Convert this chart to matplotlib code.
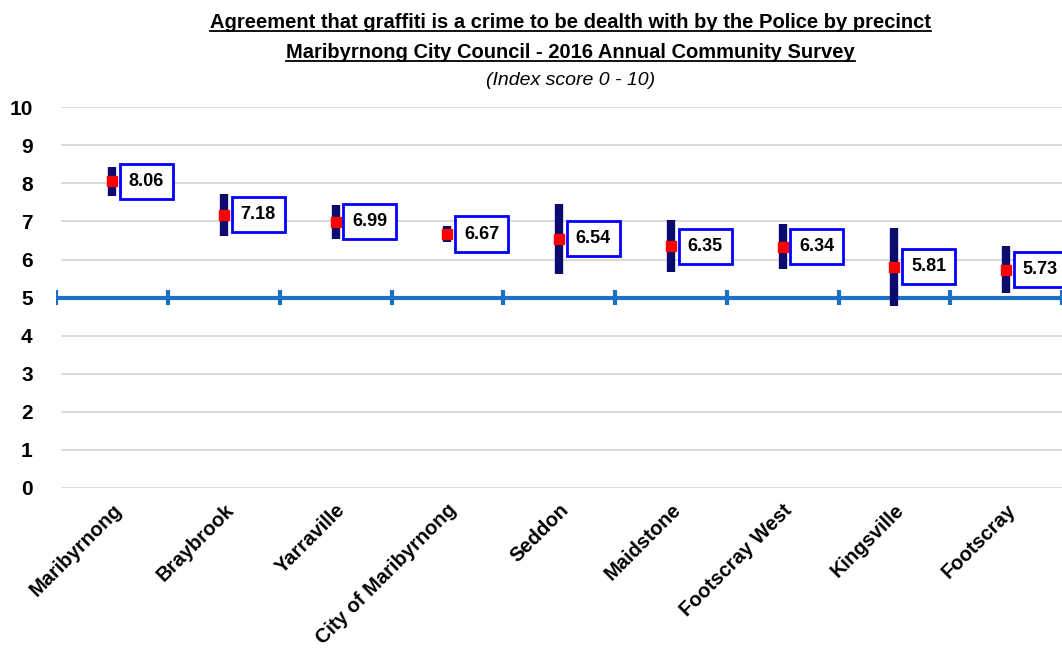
import numpy as np
import matplotlib
matplotlib.use("Agg")
import matplotlib.pyplot as plt

plt.rcParams['font.family'] = ['Liberation Sans', 'DejaVu Sans']

precincts = ["Maribyrnong", "Braybrook", "Yarraville", "City of Maribyrnong", "Seddon",
             "Maidstone", "Footscray West", "Kingsville", "Footscray"]
scores = [8.06, 7.18, 6.99, 6.67, 6.54, 6.35, 6.34, 5.81, 5.73]
# 95% confidence interval half-widths
ci = [0.38, 0.55, 0.44, 0.22, 0.92, 0.68, 0.58, 1.03, 0.62]
yticks = list(range(0, 11))

fig = plt.figure(figsize=(10.62, 6.54), dpi=100)
ax = fig.add_axes([0.053, 0.254, 0.947, 0.582])

x = np.arange(len(precincts))
ax.set_xlim(-0.5, len(precincts) - 0.5)
ax.set_ylim(0, 10)

# gridlines
for v in yticks:
    ax.axhline(v, xmin=0.006, color='#cfcfcf', lw=1.1, zorder=0)

# the axis line at 5 with tick marks between categories
ax.axhline(5, color='#1a6fc9', lw=3, zorder=1)
bounds = np.arange(len(precincts) + 1) - 0.5
ax.vlines(bounds, 4.8, 5.2, color='#1a6fc9', lw=3, zorder=1)

ax.errorbar(x, scores, yerr=ci, fmt='none', ecolor='#0b0b6e', elinewidth=6, capsize=0, zorder=2)
ax.plot(x, scores, 's', color='#ff0000', ms=6.5, zorder=3)

for xi, s in zip(x, scores):
    ax.annotate(f"{s:.2f}", (xi, s), xytext=(12, 0), textcoords='offset points',
                ha='left', va='center', fontsize=13, fontweight='bold', zorder=4,
                bbox=dict(boxstyle='square,pad=0.5', fc='white', ec='#0000ff', lw=2))

for sp in ax.spines.values():
    sp.set_visible(False)
ax.set_yticks(yticks)
ax.set_yticklabels([str(v) for v in yticks], fontsize=15, fontweight='bold')
ax.tick_params(axis='y', length=0, pad=17)
ax.set_xticks(x)
ax.set_xticklabels(precincts, rotation=45, ha='right', rotation_mode='anchor',
                   fontsize=14.5, fontweight='bold')
ax.tick_params(axis='x', length=0, pad=9)

t1 = fig.text(0.537, 0.965, "Agreement that graffiti is a crime to be dealth with by the Police by precinct",
              ha='center', va='center', fontsize=14.5, fontweight='bold')
t2 = fig.text(0.537, 0.92, "Maribyrnong City Council - 2016 Annual Community Survey",
              ha='center', va='center', fontsize=14.5, fontweight='bold')
fig.text(0.537, 0.877, "(Index score 0 - 10)", ha='center', va='center',
         fontsize=14, style='italic')

# underline the title lines
fig.canvas.draw()
r = fig.canvas.get_renderer()
inv = fig.transFigure.inverted()
for t in (t1, t2):
    bb = t.get_window_extent(r)
    (x0, y0), (x1, _) = inv.transform([(bb.x0, bb.y0), (bb.x1, bb.y1)])
    fig.add_artist(plt.Line2D([x0, x1], [y0 + 0.002, y0 + 0.002], color='black', lw=1.3,
                              transform=fig.transFigure))

fig.savefig("out.png", dpi=100)
